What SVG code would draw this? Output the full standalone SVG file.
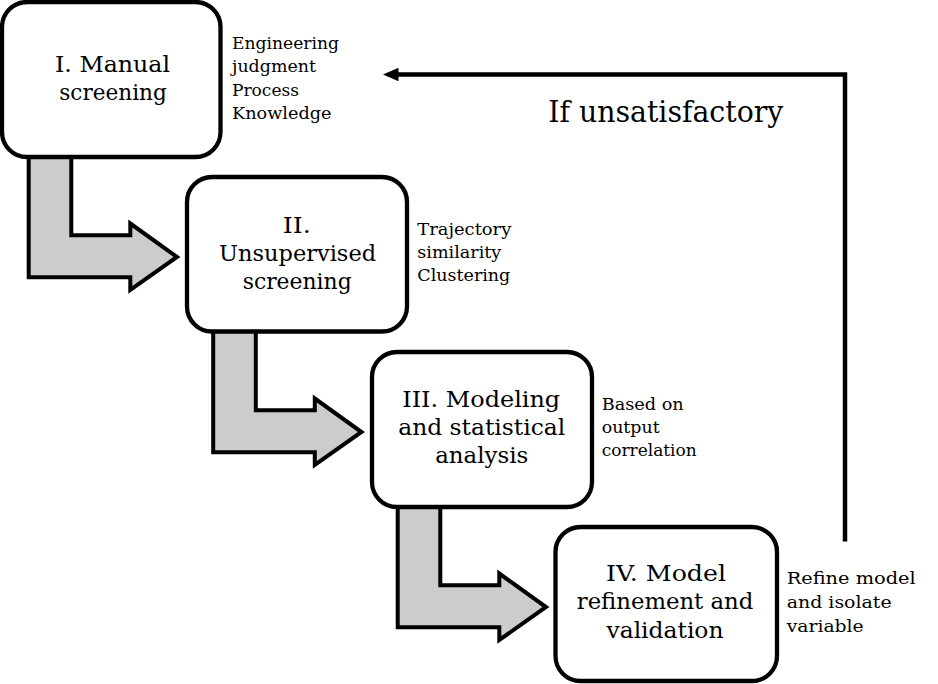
<svg xmlns="http://www.w3.org/2000/svg" width="938" height="684" viewBox="0 0 938 684">
<defs>
<style>
.box{fill:#ffffff;stroke:#000000;stroke-width:4.3}
.flow{fill:#cccccc;stroke:#000000;stroke-width:4;stroke-linejoin:miter}
.main{font-family:'DejaVu Serif','Liberation Serif',serif;font-size:23px;fill:#000000;text-anchor:middle}
.side{font-family:'DejaVu Serif','Liberation Serif',serif;font-size:16.5px;fill:#000000}
.big{font-family:'DejaVu Serif','Liberation Serif',serif;font-size:30px;fill:#000000}
.fb{fill:none;stroke:#000000;stroke-width:4.5;stroke-linejoin:miter}
</style>
<marker id="ah" markerUnits="userSpaceOnUse" markerWidth="16" markerHeight="14" viewBox="0 0 16 14" refX="2" refY="7" orient="auto">
<path d="M0,0.3 L15.5,7 L0,13.7 Z" fill="#000000"/>
</marker>
<polygon id="larrow" points="28.7,150 28.7,277.3 130.3,277.3 130.3,290 177,257 130.3,223.5 130.3,235.3 71.3,235.3 71.3,150"/>
</defs>
<rect width="938" height="684" fill="#ffffff"/>

<g id="connectors">
<use href="#larrow" class="flow"/>
<use href="#larrow" class="flow" transform="translate(184.5,175)"/>
<use href="#larrow" class="flow" transform="translate(369,350)"/>
<path class="fb" d="M845,541.5 V74.5 H396.5" marker-end="url(#ah)"/>
<text class="big" x="548.3" y="121.7" textLength="235" lengthAdjust="spacingAndGlyphs">If unsatisfactory</text>
</g>

<g id="node1">
<rect class="box" x="2" y="2" width="218.5" height="155" rx="25" ry="25"/>
<text class="main" x="112.5" y="71.7" textLength="115" lengthAdjust="spacingAndGlyphs">I. Manual</text>
<text class="main" x="113" y="100" textLength="107.5" lengthAdjust="spacingAndGlyphs">screening</text>
<text class="side" x="232" y="49" textLength="107" lengthAdjust="spacingAndGlyphs">Engineering</text>
<text class="side" x="232" y="72" textLength="84" lengthAdjust="spacingAndGlyphs">judgment</text>
<text class="side" x="232" y="95.7" textLength="67" lengthAdjust="spacingAndGlyphs">Process</text>
<text class="side" x="232" y="118.5" textLength="99.5" lengthAdjust="spacingAndGlyphs">Knowledge</text>
</g>

<g id="node2">
<rect class="box" x="187" y="177" width="220" height="154.5" rx="25" ry="25"/>
<text class="main" x="296.7" y="232.7" textLength="28" lengthAdjust="spacingAndGlyphs">II.</text>
<text class="main" x="297.6" y="260.7" textLength="157" lengthAdjust="spacingAndGlyphs">Unsupervised</text>
<text class="main" x="297.2" y="289" textLength="109" lengthAdjust="spacingAndGlyphs">screening</text>
<text class="side" x="417.3" y="235" textLength="94" lengthAdjust="spacingAndGlyphs">Trajectory</text>
<text class="side" x="417.3" y="258" textLength="84" lengthAdjust="spacingAndGlyphs">similarity</text>
<text class="side" x="417.3" y="281.3" textLength="93" lengthAdjust="spacingAndGlyphs">Clustering</text>
</g>

<g id="node3">
<rect class="box" x="372" y="352" width="220" height="155" rx="25" ry="25"/>
<text class="main" x="481.2" y="406.7" textLength="158" lengthAdjust="spacingAndGlyphs">III. Modeling</text>
<text class="main" x="481.7" y="435" textLength="167" lengthAdjust="spacingAndGlyphs">and statistical</text>
<text class="main" x="481.7" y="463.3" textLength="93" lengthAdjust="spacingAndGlyphs">analysis</text>
<text class="side" x="601.7" y="410" textLength="82" lengthAdjust="spacingAndGlyphs">Based on</text>
<text class="side" x="601.7" y="433" textLength="58" lengthAdjust="spacingAndGlyphs">output</text>
<text class="side" x="601.7" y="455.5" textLength="95" lengthAdjust="spacingAndGlyphs">correlation</text>
</g>

<g id="node4">
<rect class="box" x="555.5" y="527" width="221.5" height="154" rx="25" ry="25"/>
<text class="main" x="666" y="580.7" textLength="120" lengthAdjust="spacingAndGlyphs">IV. Model</text>
<text class="main" x="665" y="609.3" textLength="176.5" lengthAdjust="spacingAndGlyphs">refinement and</text>
<text class="main" x="665" y="638.3" textLength="117" lengthAdjust="spacingAndGlyphs">validation</text>
<text class="side" x="786.7" y="584" textLength="129" lengthAdjust="spacingAndGlyphs">Refine model</text>
<text class="side" x="786.7" y="607.7" textLength="105" lengthAdjust="spacingAndGlyphs">and isolate</text>
<text class="side" x="786.7" y="631.5" textLength="77" lengthAdjust="spacingAndGlyphs">variable</text>
</g>
</svg>
